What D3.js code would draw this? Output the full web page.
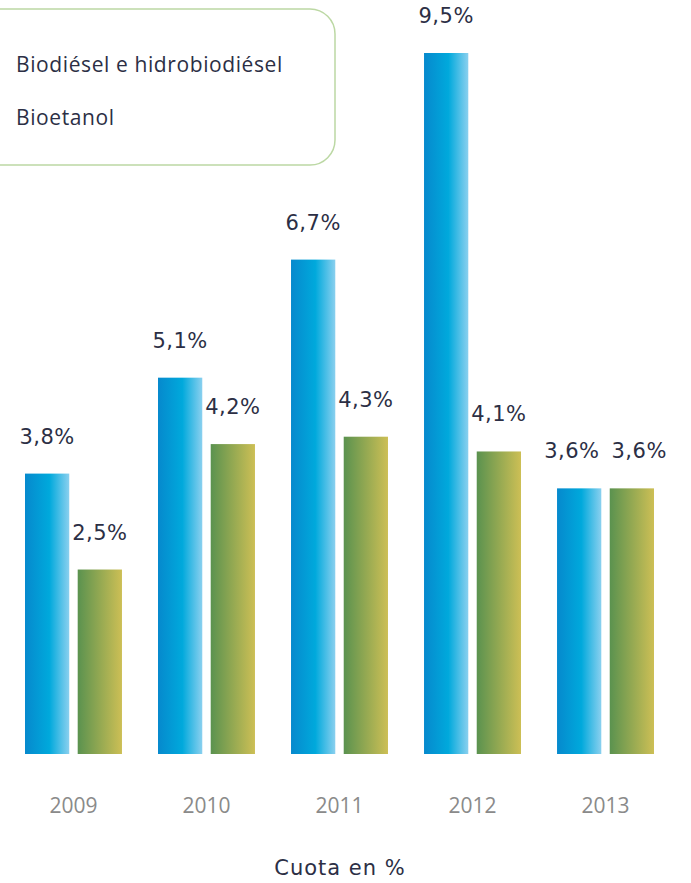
<!DOCTYPE html>
<html>
<head>
<meta charset="utf-8">
<script src="https://cdn.jsdelivr.net/npm/d3@7"></script>
<style>
  html, body { margin: 0; padding: 0; background: #ffffff; }
  svg { display: block; }
  text { font-family: "Open Sans", "DejaVu Sans", sans-serif; }
</style>
</head>
<body>
<div id="chart"></div>
<script>
// Cuota de biocarburantes por año (%)
const years = ["2009", "2010", "2011", "2012", "2013"];
const seriesNames = ["Biodiésel e hidrobiodiésel", "Bioetanol"];
const biodiesel = [3.8, 5.1, 6.7, 9.5, 3.6];
const bioetanol = [2.5, 4.2, 4.3, 4.1, 3.6];
const axisTitle = "Cuota en %";

const W = 691, H = 883;
const svg = d3.select("#chart").append("svg")
  .attr("width", W).attr("height", H);

const defs = svg.append("defs");
const blueGrad = defs.append("linearGradient").attr("id", "gBlue")
  .attr("x1", "0%").attr("x2", "100%").attr("y1", "0%").attr("y2", "0%");
blueGrad.append("stop").attr("offset", "0%").attr("stop-color", "#0689cd");
blueGrad.append("stop").attr("offset", "55%").attr("stop-color", "#00a9dc");
blueGrad.append("stop").attr("offset", "100%").attr("stop-color", "#8ad0ef");
const greenGrad = defs.append("linearGradient").attr("id", "gGreen")
  .attr("x1", "0%").attr("x2", "100%").attr("y1", "0%").attr("y2", "0%");
greenGrad.append("stop").attr("offset", "0%").attr("stop-color", "#5a924f");
greenGrad.append("stop").attr("offset", "100%").attr("stop-color", "#cdbf55");

const baseline = 754;
const y = d3.scaleLinear().domain([0, 9.5]).range([baseline, 53]);
const x0 = d3.scaleBand().domain(years).range([25, 654]).paddingInner(0.271).paddingOuter(0);
const x1 = d3.scaleBand().domain(seriesNames).range([0, x0.bandwidth()]).paddingInner(0.16);

const fills = ["url(#gBlue)", "url(#gGreen)"];
const data = years.map((yr, i) => ({ year: yr, values: [biodiesel[i], bioetanol[i]] }));

const groups = svg.selectAll("g.year").data(data).join("g")
  .attr("class", "year")
  .attr("transform", d => `translate(${x0(d.year)},0)`);

groups.selectAll("rect").data(d => d.values.map((v, j) => ({ v, j }))).join("rect")
  .attr("x", d => x1(seriesNames[d.j]))
  .attr("y", d => y(d.v))
  .attr("width", x1.bandwidth())
  .attr("height", d => baseline - y(d.v))
  .attr("fill", d => fills[d.j]);

// Etiquetas de valor sobre cada barra
const fmt = v => d3.format(".1f")(v).replace(".", ",") + "%";
groups.each(function () {
  const g = d3.select(this);
  const labels = g.selectAll("text.val").data(d => d.values.map((v, j) => ({ v, j }))).join("text")
    .attr("class", "val")
    .attr("x", d => x1(seriesNames[d.j]) + x1.bandwidth() / 2)
    .attr("y", d => y(d.v) - 30)
    .attr("text-anchor", "middle")
    .attr("font-size", 21)
    .attr("letter-spacing", 0.5)
    .style("font-family", "'DejaVu Sans', sans-serif")
    .attr("fill", "#2c2f45")
    .text(d => fmt(d.v));
  // separar las dos etiquetas cuando quedan a la misma altura y se solapan
  const nodes = labels.nodes();
  const d0 = nodes[0].__data__, d1 = nodes[1].__data__;
  if (Math.abs(y(d0.v) - y(d1.v)) < 24) {
    const w0 = nodes[0].getComputedTextLength(), w1 = nodes[1].getComputedTextLength();
    const c0 = x1(seriesNames[0]) + x1.bandwidth() / 2, c1 = x1(seriesNames[1]) + x1.bandwidth() / 2;
    const overlap = (w0 + w1) / 2 + 12 - (c1 - c0);
    if (overlap > 0) {
      d3.select(nodes[0]).attr("x", c0 - overlap / 2);
      d3.select(nodes[1]).attr("x", c1 + overlap / 2);
    }
  }
});

// Eje X con los años
const xAxis = d3.axisBottom(x0).tickSize(0).tickPadding(0);
const axisG = svg.append("g").attr("transform", `translate(0,${baseline + 59})`).call(xAxis);
axisG.select(".domain").remove();
axisG.selectAll("text")
  .attr("font-size", 21)
  .attr("fill", "#8a8a8a")
  .attr("dy", 0)
  .style("font-family", "'Open Sans', sans-serif");

svg.append("text")
  .attr("x", 340).attr("y", 875)
  .attr("text-anchor", "middle")
  .attr("font-size", 21)
  .attr("letter-spacing", 1)
  .style("font-family", "'DejaVu Sans', sans-serif")
  .attr("fill", "#2c2f45")
  .text(axisTitle);

// Leyenda
svg.append("rect")
  .attr("x", -30).attr("y", 9)
  .attr("width", 365).attr("height", 156)
  .attr("rx", 25).attr("ry", 25)
  .attr("fill", "#ffffff")
  .attr("stroke", "#bcd8a4")
  .attr("stroke-width", 1.5);

svg.selectAll("text.leg").data(seriesNames).join("text")
  .attr("class", "leg")
  .attr("x", 16)
  .attr("y", (d, i) => 72 + i * 53)
  .attr("font-size", 21)
  .attr("letter-spacing", 0.6)
  .attr("fill", "#2c2f45")
  .text(d => d);
</script>
</body>
</html>
